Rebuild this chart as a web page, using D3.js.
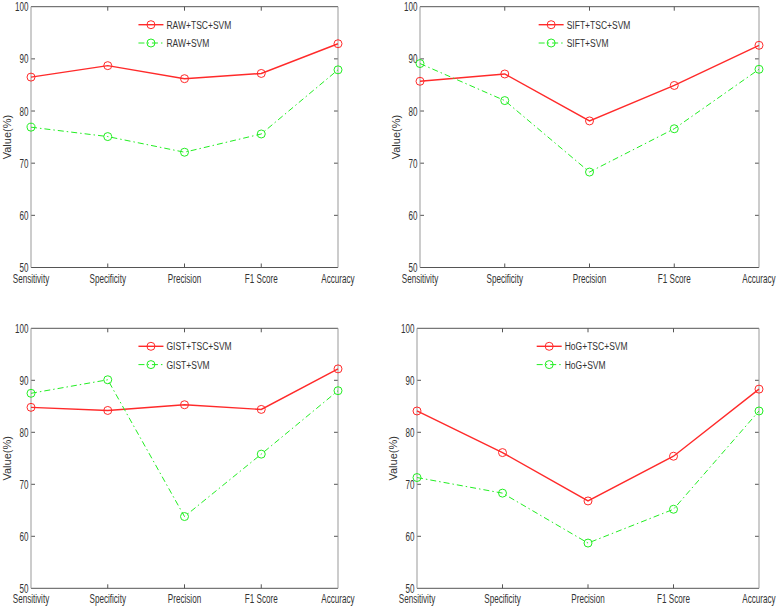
<!DOCTYPE html>
<html>
<head>
<meta charset="utf-8">
<script src="https://cdn.jsdelivr.net/npm/d3@7"></script>
<style>
  body { margin: 0; background: #fff; }
  svg { display: block; }
  text { font-family: 'Liberation Sans', Arial, sans-serif; fill: #333; }
</style>
</head>
<body>
<svg id="chart" width="778" height="609"></svg>
<script>
// categories and ticks
var categories = ['Sensitivity', 'Specificity', 'Precision', 'F1 Score', 'Accuracy'];
var yTicks = [50, 60, 70, 80, 90, 100];

// values (%)
var rawTsc  = [86.5, 88.7, 86.2, 87.2, 92.9];
var rawSvm  = [76.9, 75.1, 72.1, 75.6, 87.9];
var siftTsc = [85.7, 87.1, 78.1, 84.9, 92.6];
var siftSvm = [89.1, 82.0, 68.3, 76.6, 88.0];
var gistTsc = [84.8, 84.2, 85.3, 84.4, 92.2];
var gistSvm = [87.5, 90.1, 63.8, 75.8, 88.0];
var hogTsc  = [84.1, 76.1, 66.8, 75.4, 88.3];
var hogSvm  = [71.3, 68.3, 58.7, 65.2, 84.1];

var legendNames = [
    ['RAW+TSC+SVM', 'RAW+SVM'],
    ['SIFT+TSC+SVM', 'SIFT+SVM'],
    ['GIST+TSC+SVM', 'GIST+SVM'],
    ['HoG+TSC+SVM', 'HoG+SVM']
];
var seriesData = [
    [rawTsc, rawSvm],
    [siftTsc, siftSvm],
    [gistTsc, gistSvm],
    [hogTsc, hogSvm]
];

// panel boxes (left, right, top, bottom)
var boxes = [
    {x0: 31, x1: 338, y0: 6.7, y1: 267.5},
    {x0: 420, x1: 759, y0: 6.7, y1: 267.5},
    {x0: 31, x1: 338, y0: 328.3, y1: 588.3},
    {x0: 417, x1: 759, y0: 328.3, y1: 588.3}
];

var colors = ['#ff2a2a', '#22ee22'];
var dashes = [null, '6,3,1.5,3'];
var svg = d3.select('#chart');

// the original figure is squeezed sideways, so the text is too
function narrowText(g, x, y, str, size, sx, anchor) {
    return g.append('text')
        .attr('transform', 'translate(' + x + ',' + y + ') scale(' + sx + ',1)')
        .attr('text-anchor', anchor)
        .attr('font-size', size)
        .text(str);
}

boxes.forEach(function(b, p) {
    var g = svg.append('g');
    var x = d3.scalePoint().domain(categories).range([b.x0, b.x1]);
    var y = d3.scaleLinear().domain([50, 100]).range([b.y1, b.y0]);

    // ticks inside the box, all four sides
    g.selectAll('.ytl').data(yTicks.slice(1, -1)).enter()
        .append('line')
        .attr('x1', b.x0).attr('x2', b.x0 + 4)
        .attr('y1', function(d) { return y(d); })
        .attr('y2', function(d) { return y(d); })
        .attr('stroke', '#555');
    g.selectAll('.ytr').data(yTicks.slice(1, -1)).enter()
        .append('line')
        .attr('x1', b.x1).attr('x2', b.x1 - 4)
        .attr('y1', function(d) { return y(d); })
        .attr('y2', function(d) { return y(d); })
        .attr('stroke', '#555');
    g.selectAll('.xtb').data(categories.slice(1, -1)).enter()
        .append('line')
        .attr('x1', function(d) { return x(d); })
        .attr('x2', function(d) { return x(d); })
        .attr('y1', b.y1).attr('y2', b.y1 - 4)
        .attr('stroke', '#555');
    g.selectAll('.xtt').data(categories.slice(1, -1)).enter()
        .append('line')
        .attr('x1', function(d) { return x(d); })
        .attr('x2', function(d) { return x(d); })
        .attr('y1', b.y0).attr('y2', b.y0 + 4)
        .attr('stroke', '#555');

    // box
    g.append('line').attr('x1', b.x0).attr('x2', b.x1).attr('y1', b.y0).attr('y2', b.y0).attr('stroke', '#555');
    g.append('line').attr('x1', b.x0).attr('x2', b.x1).attr('y1', b.y1).attr('y2', b.y1).attr('stroke', '#555');
    g.append('line').attr('x1', b.x0).attr('x2', b.x0).attr('y1', b.y0).attr('y2', b.y1).attr('stroke', '#999');
    g.append('line').attr('x1', b.x1).attr('x2', b.x1).attr('y1', b.y0).attr('y2', b.y1).attr('stroke', '#999');

    // tick labels
    yTicks.forEach(function(d) {
        narrowText(g, b.x0 - 2.5, y(d) + 4.5, d, 13, 0.62, 'end');
    });
    categories.forEach(function(d) {
        narrowText(g, x(d), b.y1 + 15, d, 13.5, 0.6, 'middle');
    });

    g.append('text')
        .attr('transform', 'translate(' + (b.x0 - 24) + ',' + ((b.y0 + b.y1) / 2) + ') rotate(-90)')
        .attr('text-anchor', 'middle')
        .attr('dy', '0.35em')
        .attr('font-size', 11)
        .text('Value(%)');

    // series
    var line = d3.line()
        .x(function(d, i) { return x(categories[i]); })
        .y(function(d) { return y(d); });
    seriesData[p].forEach(function(vals, s) {
        g.append('path')
            .attr('d', line(vals))
            .attr('fill', 'none')
            .attr('stroke', colors[s])
            .attr('stroke-width', s == 0 ? 1.4 : 1)
            .attr('stroke-dasharray', dashes[s]);
        g.selectAll('.pt' + s).data(vals).enter()
            .append('circle')
            .attr('cx', function(d, i) { return x(categories[i]); })
            .attr('cy', function(d) { return y(d); })
            .attr('r', 4)
            .attr('fill', 'none')
            .attr('stroke', colors[s])
            .attr('stroke-width', 1);
    });

    // legend
    var lx = b.x0 + (b.x1 - b.x0) * 0.35;
    legendNames[p].forEach(function(name, s) {
        var ly = b.y0 + 18 + s * 18.3;
        g.append('line')
            .attr('x1', lx).attr('x2', lx + 25)
            .attr('y1', ly).attr('y2', ly)
            .attr('stroke', colors[s])
            .attr('stroke-width', s == 0 ? 1.4 : 1)
            .attr('stroke-dasharray', dashes[s]);
        g.append('circle')
            .attr('cx', lx + 12.5).attr('cy', ly).attr('r', 4)
            .attr('fill', 'none').attr('stroke', colors[s]);
        narrowText(g, lx + 28, ly + 4, name, 11.5, 0.74, 'start');
    });
});
</script>
</body>
</html>
